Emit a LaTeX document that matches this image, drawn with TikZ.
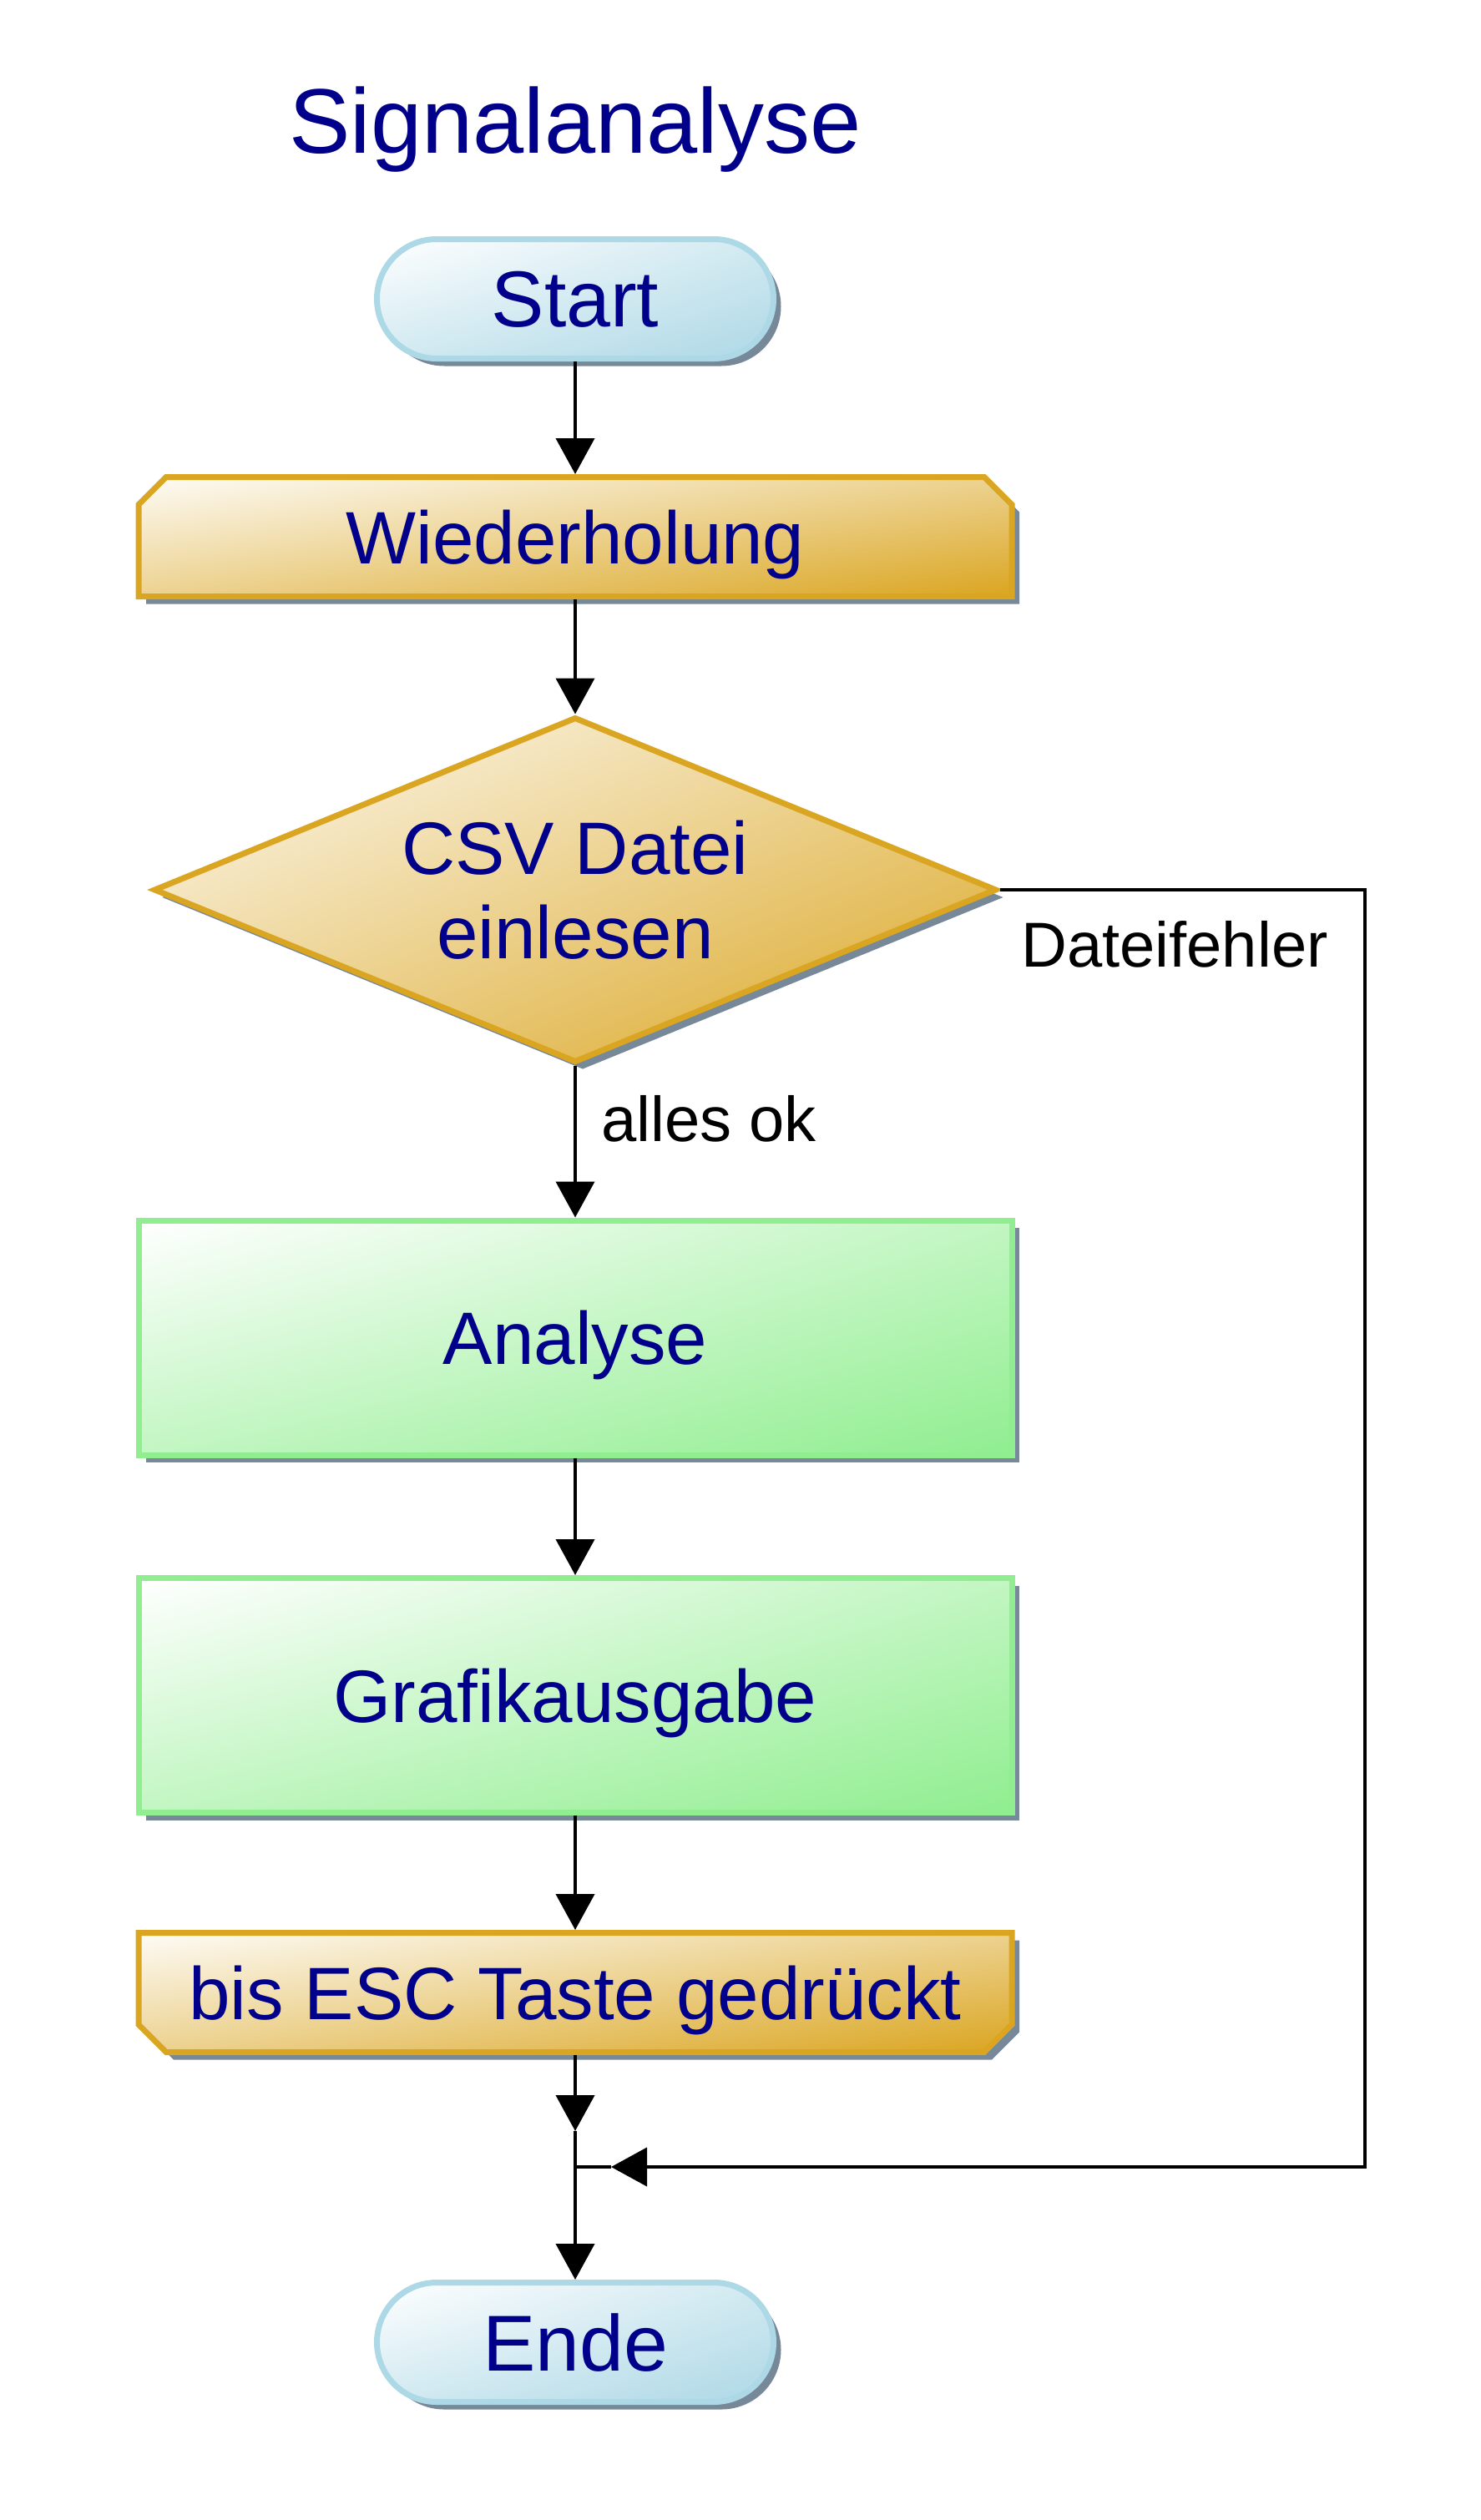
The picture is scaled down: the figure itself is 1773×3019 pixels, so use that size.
\documentclass[tikz,border=0pt]{standalone}
\usepackage{fontspec}
\setmainfont{Liberation Sans}
\usetikzlibrary{shapes.misc,shapes.geometric,shadows,shadings,arrows.meta,calc}
\definecolor{txtblue}{RGB}{0,0,139}
\definecolor{lblue}{RGB}{173,216,230}
\definecolor{goldc}{RGB}{218,165,32}
\definecolor{lgreen}{RGB}{144,238,144}
\definecolor{shadowc}{RGB}{119,136,153}
\pgfdeclarelayer{background}
\pgfsetlayers{background,main}
\begin{document}
\begin{tikzpicture}[x=1pt,y=-1pt,
  shadowed/.style={drop shadow={shadow xshift=9pt,shadow yshift=-9pt,fill=shadowc,opacity=1}},
  terminal/.style={rounded rectangle, draw=lblue, line width=7pt,
    minimum width=475pt, minimum height=143pt, inner sep=0pt,
    upper left=white, lower right=lblue, upper right=lblue!55!white, lower left=lblue!55!white,
    shadowed, text=txtblue, font=\fontsize{95}{110}\selectfont, text depth=0pt},
  process/.style={rectangle, draw=lgreen, line width=7pt,
    minimum width=1046pt, minimum height=281pt, inner sep=0pt,
    upper left=white, lower right=lgreen, upper right=lgreen!55!white, lower left=lgreen!55!white,
    shadowed, text=txtblue, font=\fontsize{89}{102}\selectfont, text depth=0pt},
  looplabel/.style={rectangle, minimum width=1046pt, minimum height=143pt,
    inner sep=0pt, outer sep=3.5pt, text=txtblue, font=\fontsize{89}{102}\selectfont, text depth=0pt},
  decision/.style={diamond, draw=goldc, line width=7pt, aspect=2.45,
    minimum width=1010pt, minimum height=414pt, inner sep=0pt,
    upper left=goldc!4!white, lower right=goldc, upper right=goldc!50!white, lower left=goldc!50!white,
    shadowed, text=txtblue, font=\fontsize{89}{101}\selectfont, align=center},
  loopshape/.style={draw=goldc, line width=7pt,
    upper left=goldc!4!white, lower right=goldc, upper right=goldc!50!white, lower left=goldc!50!white},
  loopshadow/.style={fill=shadowc, transform canvas={shift={(9pt,-9pt)}}},
  arr/.style={draw=black, line width=4pt, -{Triangle[length=43pt,width=46pt]}},
  conn/.style={draw=black, line width=4pt},
  edgelabel/.style={font=\fontsize{76}{88}\selectfont, text=black, inner sep=0pt},
  titlestyle/.style={font=\fontsize{110}{130}\selectfont, text=txtblue, inner sep=0pt}
]
\useasboundingbox (0,0) rectangle (1773,3019);

% title
\node[titlestyle, anchor=base] (title) at (689,183) {Signalanalyse};

% nodes
\node[terminal] (start) at (689,358) {Start};
\node[looplabel] (wdh) at (689,643) {Wiederholung};
\node[decision] (dec) at (689,1066) {CSV Datei\\einlesen};
\node[process] (ana) at (689,1602.5) {Analyse};
\node[process] (gra) at (689,2031) {Grafikausgabe};
\node[looplabel] (esc) at (689,2387) {bis ESC Taste gedrückt};
\node[terminal] (ende) at (689,2806) {Ende};

% labels
\node[edgelabel, anchor=base west] (ok) at (720,1367) {alles ok};
\node[edgelabel, anchor=base west] (err) at (1223,1158) {Dateifehler};

% loop shapes (background)
\begin{pgfonlayer}{background}
  \coordinate (wnw) at ([xshift=3.5pt,yshift=-3.5pt]wdh.north west);
  \coordinate (wne) at ([xshift=-3.5pt,yshift=-3.5pt]wdh.north east);
  \coordinate (wsw) at ([xshift=3.5pt,yshift=3.5pt]wdh.south west);
  \coordinate (wse) at ([xshift=-3.5pt,yshift=3.5pt]wdh.south east);
  \fill[loopshadow] (wsw) -- ([yshift=-33pt]wnw) -- ([xshift=33pt]wnw) -- ([xshift=-33pt]wne)
     -- ([yshift=-33pt]wne) -- (wse) -- cycle;
  \path[loopshape] (wsw) -- ([yshift=-33pt]wnw) -- ([xshift=33pt]wnw) -- ([xshift=-33pt]wne)
     -- ([yshift=-33pt]wne) -- (wse) -- cycle;

  \coordinate (enw) at ([xshift=3.5pt,yshift=-3.5pt]esc.north west);
  \coordinate (ene) at ([xshift=-3.5pt,yshift=-3.5pt]esc.north east);
  \coordinate (esw) at ([xshift=3.5pt,yshift=3.5pt]esc.south west);
  \coordinate (ese) at ([xshift=-3.5pt,yshift=3.5pt]esc.south east);
  \fill[loopshadow] (enw) -- (ene) -- ([yshift=33pt]ese) -- ([xshift=-33pt]ese)
     -- ([xshift=33pt]esw) -- ([yshift=33pt]esw) -- cycle;
  \path[loopshape] (enw) -- (ene) -- ([yshift=33pt]ese) -- ([xshift=-33pt]ese)
     -- ([xshift=33pt]esw) -- ([yshift=33pt]esw) -- cycle;
\end{pgfonlayer}

% connector points
\coordinate (r1) at (1635,1066);
\coordinate (r2) at (1635,2596);
\coordinate (j) at (689,2596);
\coordinate (jr) at (732,2596);
\coordinate (jt) at (689,2553);

% connectors
\draw[arr] (start.south) -- (wdh.north);
\draw[arr] (wdh.south) -- (dec.north);
\draw[arr] (dec.south) -- (ana.north);
\draw[arr] (ana.south) -- (gra.north);
\draw[arr] (gra.south) -- (esc.north);
\draw[arr] (esc.south) -- (jt);
\draw[conn] (jt) -- (j);
\draw[arr] (dec.east) -- (r1) -- (r2) -- (jr);
\draw[conn] (jr) -- (j);
\draw[arr] (j) -- (ende.north);
\end{tikzpicture}
\end{document}
